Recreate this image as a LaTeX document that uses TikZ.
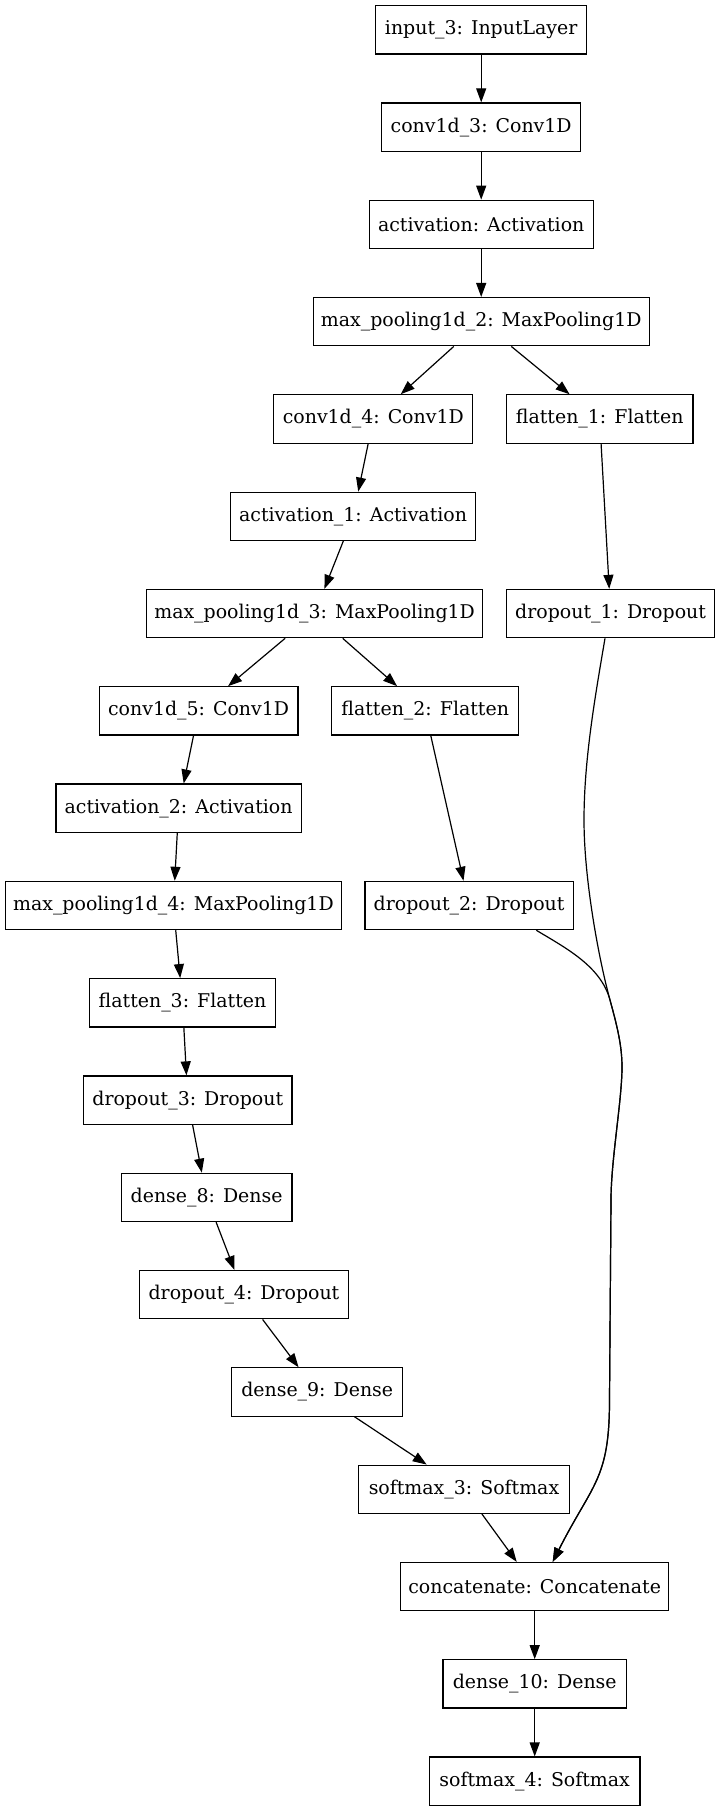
\documentclass[tikz,border=0pt]{standalone}
\usepackage{fontspec}
\setmainfont{DejaVu Serif}
\usetikzlibrary{arrows.meta,calc}
\begin{document}
\begin{tikzpicture}[x=0.75pt,y=-0.75pt,
  box/.style={draw, line width=0.9pt, inner sep=0pt, minimum height=36.2pt, font=\fontsize{14.2}{17}\selectfont},
  arr/.style={draw, line width=0.9pt, -{Triangle[length=10.5pt,width=7.5pt]}}]
\useasboundingbox (0,0) rectangle (720,1812);
\node[box,minimum width=158.4pt] (in3) at (481.2,29.8) {input\_3: InputLayer};
\node[box,minimum width=149.2pt] (c3) at (481.2,127.1) {conv1d\_3: Conv1D};
\node[box,minimum width=168.1pt] (act) at (481.2,224.4) {activation: Activation};
\node[box,minimum width=252pt] (mp2) at (481.2,321.7) {max\_pooling1d\_2: MaxPooling1D};
\node[box,minimum width=149.2pt] (c4) at (373.3,419) {conv1d\_4: Conv1D};
\node[box,minimum width=140pt] (f1) at (599.7,419) {flatten\_1: Flatten};
\node[box,minimum width=183.9pt] (a1) at (353.1,516.3) {activation\_1: Activation};
\node[box,minimum width=252pt] (mp3) at (314.6,613.6) {max\_pooling1d\_3: MaxPooling1D};
\node[box,minimum width=156.2pt] (d1) at (610.6,613.6) {dropout\_1: Dropout};
\node[box,minimum width=149.2pt] (c5) at (198.6,710.9) {conv1d\_5: Conv1D};
\node[box,minimum width=140pt] (f2) at (425.2,710.9) {flatten\_2: Flatten};
\node[box,minimum width=183.9pt] (a2) at (178.6,808.2) {activation\_2: Activation};
\node[box,minimum width=252pt] (mp4) at (173.4,905.5) {max\_pooling1d\_4: MaxPooling1D};
\node[box,minimum width=156.2pt] (d2) at (469.1,905.5) {dropout\_2: Dropout};
\node[box,minimum width=140pt] (f3) at (182.5,1002.8) {flatten\_3: Flatten};
\node[box,minimum width=156.2pt] (d3) at (187.8,1100.1) {dropout\_3: Dropout};
\node[box,minimum width=128.2pt] (d8) at (206.6,1197.4) {dense\_8: Dense};
\node[box,minimum width=156.2pt] (d4) at (244,1294.7) {dropout\_4: Dropout};
\node[box,minimum width=128.2pt] (d9) at (317.2,1392) {dense\_9: Dense};
\node[box,minimum width=158pt] (s3) at (464,1489.3) {softmax\_3: Softmax};
\node[box,minimum width=201pt] (cat) at (534.7,1586.6) {concatenate: Concatenate};
\node[box,minimum width=137.5pt] (d10) at (534.7,1683.9) {dense\_10: Dense};
\node[box,minimum width=158pt] (s4) at (534.7,1781.2) {softmax\_4: Softmax};
\coordinate (m) at (610,1000);
\draw[arr] (in3) -- (c3);
\draw[arr] (c3) -- (act);
\draw[arr] (act) -- (mp2);
\draw[arr] (mp2) -- (c4);
\draw[arr] (mp2) -- (f1);
\draw[arr] (c4) -- (a1);
\draw[arr] (a1) -- (mp3);
\draw[arr] (f1) -- (d1);
\draw[arr] (mp3) -- (c5);
\draw[arr] (mp3) -- (f2);
\draw[arr] (c5) -- (a2);
\draw[arr] (a2) -- (mp4);
\draw[arr] (f2) -- (d2);
\draw[arr] (mp4) -- (f3);
\draw[arr] (f3) -- (d3);
\draw[arr] (d3) -- (d8);
\draw[arr] (d8) -- (d4);
\draw[arr] (d4) -- (d9);
\draw[arr] (d9) -- (s3);
\draw[arr] (s3) -- (cat);
\draw[arr] (cat) -- (d10);
\draw[arr] (d10) -- (s4);
\draw[arr] ($(d1.south)+(-5.6,0)$) .. controls (595,697) and (584,760) .. (584,820)
  .. controls (584,880) and (599,960) .. (m)
  .. controls (616.8,1025) and (622,1045) .. (622,1067)
  .. controls (622,1100) and (611,1160) .. (611,1200) -- (609.5,1400)
  .. controls (609.5,1480) and (592.4,1483.3) .. ($(cat.north)+(18,0)$);
\draw[arr] ($(d2.south)+(67.2,0)$) .. controls (566,948.2) and (600.9,966.2) .. (m)
  .. controls (616.8,1025) and (622,1045) .. (622,1067)
  .. controls (622,1100) and (611,1160) .. (611,1200) -- (609.5,1400)
  .. controls (609.5,1480) and (592.4,1483.3) .. ($(cat.north)+(18,0)$);
\end{tikzpicture}
\end{document}
